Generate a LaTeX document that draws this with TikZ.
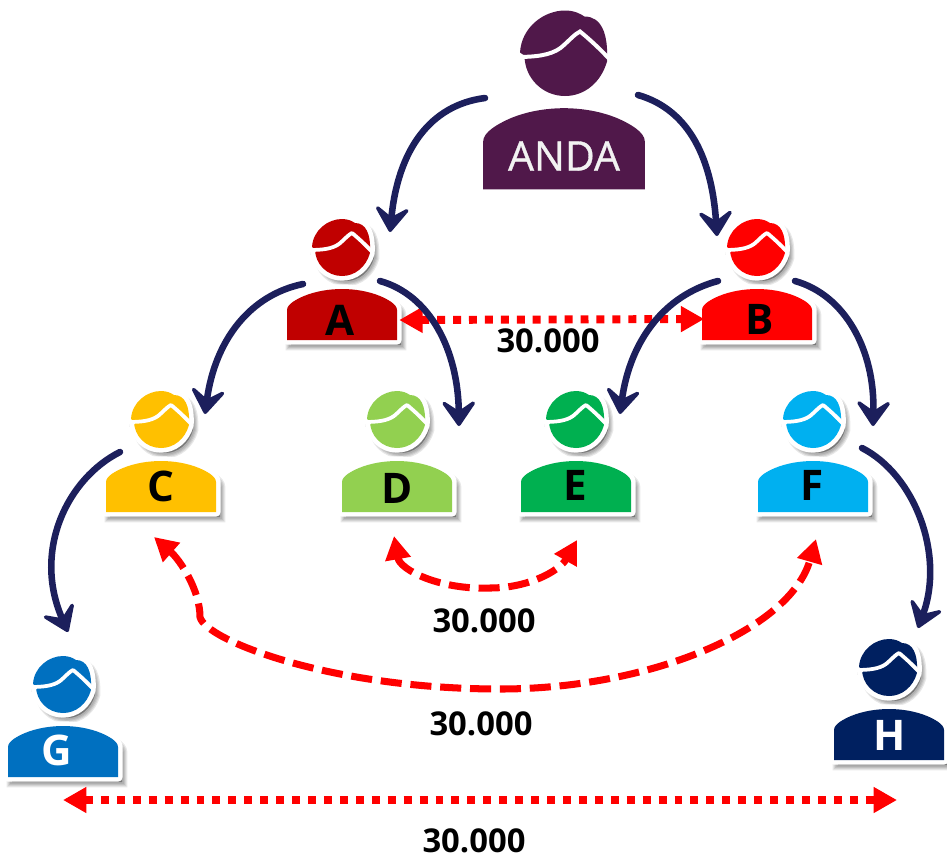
\documentclass[tikz,border=0pt]{standalone}
\usepackage{fontspec}
\setmainfont{Open Sans}
\newfontfamily\andafont[FakeBold=0.8]{Open Sans}
\usetikzlibrary{arrows.meta}

\definecolor{andacol}{HTML}{50184A}
\definecolor{navyline}{HTML}{1C1F5C}
\definecolor{acol}{HTML}{C00000}
\definecolor{bcol}{HTML}{FF0000}
\definecolor{ccol}{HTML}{FFC000}
\definecolor{dcol}{HTML}{92D050}
\definecolor{ecol}{HTML}{00B050}
\definecolor{fcol}{HTML}{00B0F0}
\definecolor{gcol}{HTML}{0070C0}
\definecolor{hcol}{HTML}{002060}

\newcommand{\headshape}{(-30,-1) .. controls (-29,-18) and (-14,-29) .. (0,-29) .. controls (6,-29) and (10,-27) .. (13,-25) .. controls (24,-25) and (29,-14) .. (28,5) .. controls (24,19) and (13,28) .. (0,28) .. controls (-15,28) and (-27,16) .. (-27,1) -- cycle}
\newcommand{\bodyshape}{(-55,92) -- (-55,62) .. controls (-55,56) and (-45,51) .. (-38,48) .. controls (-26,43) and (-12,41) .. (0,41) .. controls (12,41) and (26,43) .. (38,48) .. controls (45,51) and (55,56) .. (55,62) -- (55,92) -- cycle}
\newcommand{\hairline}{(-33,2) .. controls (-20,2) and (-10,1) .. (-3,-4) .. controls (3,-9) and (6,-13) .. (10,-15) .. controls (15,-11) and (24,-3) .. (31,5)}

\tikzset{
  family/.style={draw=navyline, line width=5.6pt, line cap=round, -{Stealth[length=26pt,width=36pt,inset=12pt,round,line width=3pt]}},
  pairdot/.style={draw=red, line width=6.8pt, dash pattern=on 6.8pt off 6.8pt, {Triangle[length=20pt,width=21pt]}-{Triangle[length=20pt,width=21pt]}},
  pairdash/.style={draw=red, line width=6pt, dash pattern=on 18pt off 7.5pt, {Triangle[length=20pt,width=21pt]}-{Triangle[length=20pt,width=21pt]}},
  amount/.style={font=\bfseries\fontsize{28}{28}\selectfont, inner sep=0pt},
  bodylabel/.style={font=\bfseries\fontsize{36}{36}\selectfont, inner sep=0pt, minimum width=100.7pt, minimum height=44pt},
}

\begin{document}
\begin{tikzpicture}[x=0.03cm, y=-0.03cm]
  \useasboundingbox (0, 0) rectangle (947, 855);

  % the parent
  \begin{scope}[shift={(565, 54)}, scale=1.5]
    \fill[andacol] \headshape;
    \draw[white, line width=3.4pt] \hairline;
  \end{scope}
  \begin{scope}[shift={(564, 43)}, xscale=1.47, yscale=1.59]
    \fill[andacol] \bodyshape;
  \end{scope}
  \node[font=\andafont\fontsize{35}{35}\selectfont, text=white!95!black, inner sep=0pt] (anda) at (564, 156) {ANDA};

  % everybody else
  \foreach \name/\x/\y/\col/\txt/\dx/\dy in {A/342/248/acol/black/-2/72, B/757/248/bcol/black/3/71, C/161/420/ccol/black/0/66, D/397/420/dcol/black/0/68, E/576/420/ecol/black/-1/65, F/813/420/fcol/black/-1/65, G/63/685/gcol/white/-6/65, H/889/668/hcol/white/1/67} {
    \begin{scope}[shift={(\x, \y)}]
      \foreach \w in {9, 7, 5, 3} {
        \begin{scope}[shift={(4, 5)}]
          \fill[black, opacity=0.09, draw=black, line width=\w pt] \headshape;
          \fill[black, opacity=0.09, draw=black, line width=\w pt] \bodyshape;
        \end{scope}
      }
      \filldraw[draw=white, fill=white, line width=8pt, line join=round] \headshape;
      \filldraw[draw=white, fill=white, line width=8pt, line join=round] \bodyshape;
      \fill[\col] \headshape;
      \fill[\col] \bodyshape;
      \draw[white, line width=3.2pt, line join=round] \hairline;
      \node[bodylabel, text=\txt] (\name) at (\dx, \dy) {\name};
    \end{scope}
  }

  \coordinate (gstart) at (63, 800);
  \coordinate (hend) at (897, 800);
  \coordinate (cstart) at (154, 537);
  \coordinate (fend) at (816, 539);
  \coordinate (dstart) at (394, 536);
  \coordinate (eend) at (577, 540);

  \draw[pairdot, shorten >=-3pt] (A.east) -- (B.west);
  \draw[pairdot] (gstart) -- (hend);
  \draw[pairdash] (dstart) .. controls (400, 570) and (440, 590) .. (490, 588) .. controls (530, 588) and (560, 570) .. (eend);
  \draw[pairdash] (cstart) .. controls (180, 560) and (200, 590) .. (200, 617) .. controls (205, 640) and (330, 689) .. (500, 689) .. controls (650, 689) and (790, 630) .. (fend);

  \node[amount] (ab) at (548, 341) {30.000};
  \node[amount] (de) at (484, 621) {30.000};
  \node[amount] (cf) at (481, 724) {30.000};
  \node[amount] (gh) at (474, 841) {30.000};

  \coordinate (andaleft) at (485, 98);
  \coordinate (andaright) at (638, 95);
  \coordinate (aleft) at (303, 284);
  \coordinate (aright) at (380, 281);
  \coordinate (bleft) at (718, 281);
  \coordinate (bright) at (795, 281);
  \coordinate (cleft) at (120, 452);
  \coordinate (fright) at (862, 448);
  \coordinate (atop) at (390, 232);
  \coordinate (btop) at (717, 236);
  \coordinate (ctop) at (205, 414);
  \coordinate (dtop) at (459, 426);
  \coordinate (etop) at (620, 414);
  \coordinate (ftop) at (873, 426);
  \coordinate (gtop) at (68, 632);
  \coordinate (htop) at (918, 628);

  \draw[family] (andaleft) .. controls (430, 105) and (398, 150) .. (atop);
  \draw[family] (andaright) .. controls (690, 110) and (712, 160) .. (btop);
  \draw[family] (aleft) .. controls (250, 295) and (215, 340) .. (ctop);
  \draw[family] (aright) .. controls (430, 295) and (458, 350) .. (dtop);
  \draw[family] (bleft) .. controls (665, 295) and (630, 340) .. (etop);
  \draw[family] (bright) .. controls (845, 295) and (875, 350) .. (ftop);
  \draw[family] (cleft) .. controls (68, 478) and (32, 550) .. (gtop);
  \draw[family] (fright) .. controls (915, 475) and (945, 555) .. (htop);
\end{tikzpicture}
\end{document}
